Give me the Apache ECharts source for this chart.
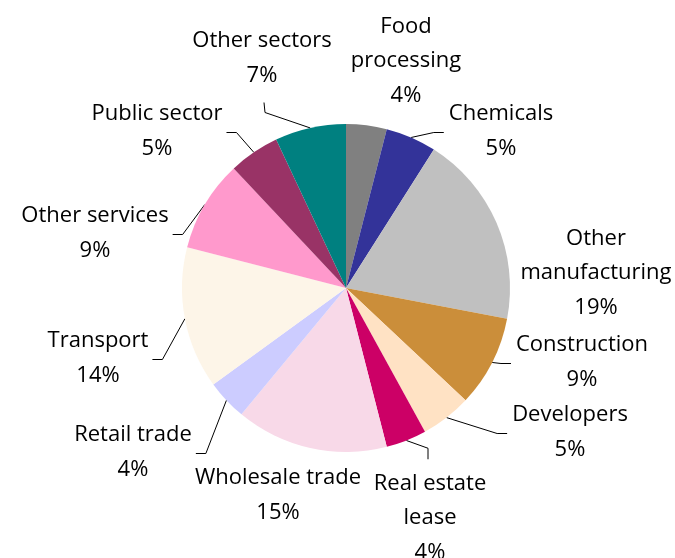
<!DOCTYPE html>
<html>
<head>
<meta charset="utf-8">
<script src="https://cdn.jsdelivr.net/npm/echarts@6/dist/echarts.min.js"></script>
<style>
  html, body { margin: 0; padding: 0; background: #ffffff; }
  #chart { width: 675px; height: 558px; }
</style>
</head>
<body>
<div id="chart"></div>
<script>
// Sector names (line breaks as printed) and their shares in percent, clockwise from 12 o'clock
const sectors = [
  'Food\nprocessing', 'Chemicals', 'Other\nmanufacturing', 'Construction',
  'Developers', 'Real estate\nlease', 'Wholesale trade', 'Retail trade',
  'Transport', 'Other services', 'Public sector', 'Other sectors'
];
const shares = [4, 5, 19, 9, 5, 4, 15, 4, 14, 9, 5, 7];

// Slice fills, same order as the sectors
const fills = [
  '#808080', '#333399', '#C0C0C0', '#CB8E3A',
  '#FFE2C4', '#CC0066', '#F8D9E8', '#CCCCFF',
  '#FDF5E8', '#FF99CC', '#993366', '#008080'
];

// Where each label block sits (centre x, centre y) and which side its leader enters
const labelSpots = [
  [406, 61, null],
  [501, 131, 'left'],
  [596, 273, null],
  [582, 362, 'left'],
  [570, 432, 'left'],
  [430, 518, 'top'],
  [278, 495, null],
  [133, 452, 'right'],
  [98, 358, 'right'],
  [95, 233, 'right'],
  [157, 131, 'right'],
  [262, 58, 'bottom']
];

const chart = echarts.init(document.getElementById('chart'), null, { renderer: 'canvas' });

chart.setOption({
  backgroundColor: '#ffffff',
  animation: false,
  series: [{
    type: 'pie',
    center: [346, 288],
    radius: [0, 164],
    startAngle: 90,
    clockwise: true,
    avoidLabelOverlap: false,
    itemStyle: { borderWidth: 0 },
    label: {
      show: true,
      position: 'outside',
      color: '#000000',
      fontFamily: '"Open Sans", sans-serif',
      fontSize: 22,
      lineHeight: 34.5,
      align: 'center',
      formatter: function (p) { return p.name + '\n' + p.value + '%'; }
    },
    labelLine: {
      show: true,
      lineStyle: { color: '#000000', width: 1 }
    },
    labelLayout: function (p) {
      const spot = labelSpots[p.dataIndex];
      const w = p.labelRect.width, h = p.labelRect.height;
      const out = { x: spot[0], y: spot[1], align: 'center', verticalAlign: 'middle' };
      const side = spot[2];
      if (side && p.labelLinePoints) {
        const start = p.labelLinePoints[0];
        const top = spot[1] - h / 2;
        let elbow, end;
        if (side === 'left') {
          end = [spot[0] - w / 2 - 5, top + 36];
          elbow = [end[0] - 10, end[1]];
        } else if (side === 'right') {
          end = [spot[0] + w / 2 + 4, top + 36];
          elbow = [end[0] + 10, end[1]];
        } else if (side === 'bottom') {
          end = [spot[0] + 2, top + h + 10];
          elbow = [end[0] + 1, end[1] + 10];
        } else {
          end = [spot[0] - 2, top - 7];
          elbow = [end[0], end[1] - 11];
        }
        out.labelLinePoints = [start, elbow, end];
      }
      return out;
    },
    data: sectors.map(function (name, i) {
      return {
        name: name,
        value: shares[i],
        itemStyle: { color: fills[i] },
        labelLine: { show: !!labelSpots[i][2] }
      };
    })
  }]
});
</script>
</body>
</html>
